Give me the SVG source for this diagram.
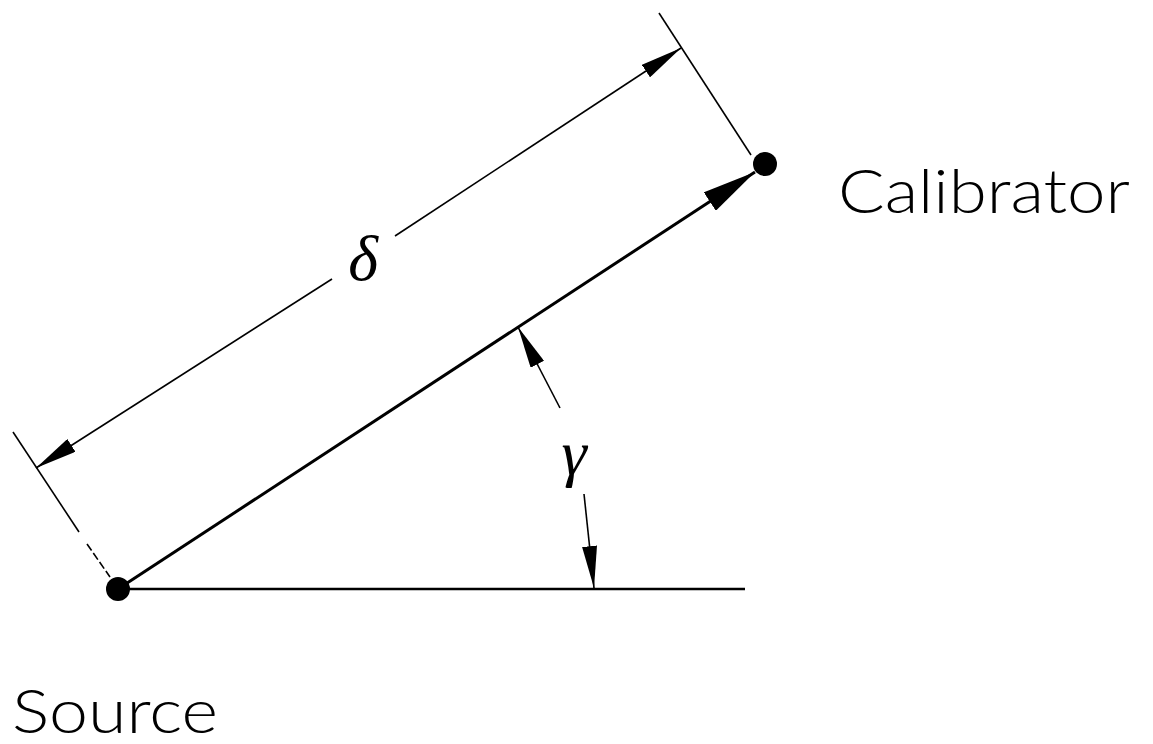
<svg xmlns="http://www.w3.org/2000/svg" width="1153" height="744" viewBox="0 0 1153 744">
<style>
.lbl{font-family:Lato,"Open Sans","Liberation Sans",sans-serif;font-weight:300;font-size:62px;fill:#000}
.sym{font-family:"Liberation Serif","DejaVu Serif",serif;font-style:italic;font-size:64px;fill:#000}
.thin{stroke:#000;stroke-width:1.6;fill:none}
.main{stroke:#000;stroke-width:3;fill:none}
.base{stroke:#000;stroke-width:2.4;fill:none}
</style>
<defs>
<marker id="ah" viewBox="0 0 42 15" refX="42" refY="7.5" markerWidth="42" markerHeight="15" markerUnits="userSpaceOnUse" orient="auto-start-reverse">
<path d="M0,0 L42,7.5 L0,15 z" fill="#000"/>
</marker>
<marker id="ahBig" viewBox="0 0 54 22" refX="54" refY="11" markerWidth="54" markerHeight="22" markerUnits="userSpaceOnUse" orient="auto">
<path d="M0,0 L54,11 L0,22 z" fill="#000"/>
</marker>
</defs>
<rect width="1153" height="744" fill="#fff"/>
<g id="connectors">
<path class="main" d="M118,589 L755,172" marker-end="url(#ahBig)"/>
<path class="base" d="M118,589 L745,589"/>
<path class="thin" d="M13,432 L79,532"/>
<path class="thin" d="M87,544 L110,577" stroke-dasharray="8,3"/>
<path class="thin" d="M659,13 L751,155"/>
<path class="thin" d="M332,279 L36,468" marker-end="url(#ah)"/>
<path class="thin" d="M395,236 L681,48" marker-end="url(#ah)"/>
<path class="thin" d="M560,408 L518,327" marker-end="url(#ah)"/>
<path class="thin" d="M584,494 L594,588" marker-end="url(#ah)"/>
</g>
<g id="source">
<circle cx="118" cy="589" r="12" fill="#000"/>
<text class="lbl" x="12" y="733" textLength="206" lengthAdjust="spacingAndGlyphs">Source</text>
</g>
<g id="calibrator">
<circle cx="765" cy="164" r="12" fill="#000"/>
<text class="lbl" x="838" y="213" textLength="292" lengthAdjust="spacingAndGlyphs">Calibrator</text>
</g>
<g id="delta-label">
<text class="sym" x="363" y="280" text-anchor="middle">δ</text>
</g>
<g id="gamma-label">
<text class="sym" x="574" y="474" text-anchor="middle">γ</text>
</g>
</svg>
